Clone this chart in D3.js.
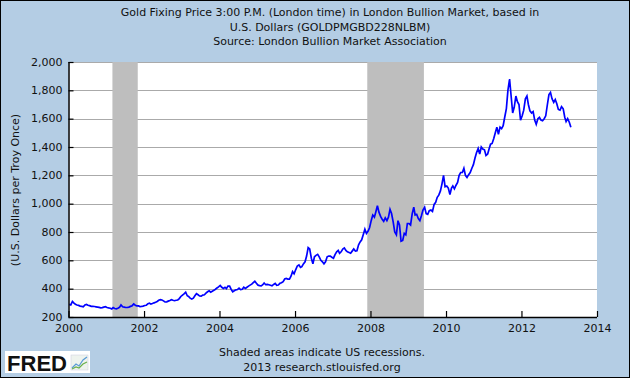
<!DOCTYPE html>
<html><head><meta charset="utf-8">
<script src="https://cdn.jsdelivr.net/npm/d3@7"></script>
<style>body{margin:0;background:#fff}svg{display:block}</style>
</head><body>
<script>
// Semi-monthly readings (two per month, Jan..Dec) of the gold PM fix, USD per troy ounce
const gold2000 = [289,285,310,298,290,285,282,277,275,272,285,289,283,280,275,275,274,272,270,268,265,266,270,273];
const gold2001 = [267,264,262,257,266,260,258,262,268,285,272,270,267,267,270,275,280,292,283,279,278,274,275,277];
const gold2002 = [281,283,294,298,291,295,300,304,310,318,322,320,314,306,307,312,317,322,318,315,318,320,330,345];
const gold2003 = [355,363,375,350,345,333,327,333,350,365,357,348,347,355,357,368,378,385,375,382,388,396,405,413];
const gold2004 = [423,410,402,410,400,418,418,395,378,385,392,394,404,393,396,410,402,410,418,425,432,443,452,438];
const gold2005 = [425,422,420,428,440,428,430,428,424,420,430,437,424,426,438,442,450,468,472,468,468,488,520,505];
const gold2006 = [535,560,568,550,555,575,590,630,690,680,615,575,625,635,642,625,600,590,575,590,625,630,630,622];
const gold2007 = [615,640,660,670,650,660,680,688,670,660,655,650,665,680,665,668,710,730,745,780,820,790,805,830];
const gold2008 = [880,920,905,945,985,940,910,890,875,900,880,905,960,930,870,800,780,880,850,735,740,790,780,860];
const gold2009 = [860,850,930,975,920,925,895,880,915,955,975,930,925,950,955,945,995,1010,1045,1060,1090,1140,1200,1120];
const gold2010 = [1125,1110,1065,1110,1125,1105,1130,1150,1200,1220,1220,1250,1200,1185,1205,1220,1250,1275,1320,1360,1390,1350,1400,1385];
const gold2011 = [1380,1340,1350,1390,1420,1425,1460,1500,1540,1490,1540,1530,1550,1610,1670,1800,1880,1760,1640,1680,1760,1720,1700,1590];
const gold2012 = [1620,1660,1740,1760,1700,1655,1640,1650,1590,1560,1600,1610,1590,1585,1600,1620,1700,1770,1785,1740,1715,1735,1705,1665];
const gold2013 = [1660,1685,1670,1610,1580,1600,1575,1540];

const seriesYears = [2000,2001,2002,2003,2004,2005,2006,2007,2008,2009,2010,2011,2012,2013];
const seriesArrays = [gold2000,gold2001,gold2002,gold2003,gold2004,gold2005,gold2006,gold2007,gold2008,gold2009,gold2010,gold2011,gold2012,gold2013];

const recessionStarts = ["2001-03-01","2007-12-01"];
const recessionEnds   = ["2001-11-01","2009-06-01"];

const yTicks = [200,400,600,800,1000,1200,1400,1600,1800,2000];
const xTickYears = [2000,2002,2004,2006,2008,2010,2012,2014];

const titleLines = ["Gold Fixing Price 3:00 P.M. (London time) in London Bullion Market, based in",
                    "U.S. Dollars (GOLDPMGBD228NLBM)",
                    "Source: London Bullion Market Association"];
const footerLines = ["Shaded areas indicate US recessions.","2013 research.stlouisfed.org"];
const yAxisTitle = "(U.S. Dollars per Troy Once)";

// build data
const data = [];
seriesYears.forEach((yr,i)=>{
  seriesArrays[i].forEach((v,j)=>{
    const m = Math.floor(j/2), half = j%2;
    data.push({date:new Date(yr,m,half?23:8), value:v});
  });
});

const W=630,H=378;
const font = "'DejaVu Sans', Verdana, sans-serif";
const svg = d3.select("body").append("svg").attr("width",W).attr("height",H);
svg.append("rect").attr("x",0).attr("y",0).attr("width",W).attr("height",H).attr("fill","#b4cde4");
svg.append("rect").attr("x",0.5).attr("y",0.5).attr("width",W-1).attr("height",H-1).attr("fill","none").attr("stroke","#000");

const L=68.5,R=597,T=62,B=317;
const x = d3.scaleTime().domain([new Date(2000,0,1),new Date(2014,0,1)]).range([L,R]);
const y = d3.scaleLinear().domain([200,2000]).range([B,T]);

svg.append("rect").attr("x",L).attr("y",T).attr("width",R-L).attr("height",B-T).attr("fill","#fff");

// gridlines
svg.append("g").selectAll("line").data(yTicks.slice(1)).join("line")
  .attr("x1",L).attr("x2",R).attr("y1",d=>Math.round(y(d))+0.5).attr("y2",d=>Math.round(y(d))+0.5)
  .attr("stroke","#aaaaaa").attr("stroke-width",1.2);

// recessions
const parse = d3.timeParse("%Y-%m-%d");
svg.append("g").selectAll("rect").data(recessionStarts.map((s,i)=>({s:parse(s),e:parse(recessionEnds[i])}))).join("rect")
  .attr("x",d=>x(d.s)).attr("width",d=>x(d.e)-x(d.s)).attr("y",T).attr("height",B-T).attr("fill","#bebebe");

// line
svg.append("path").datum(data).attr("fill","none").attr("stroke","#0000ff").attr("stroke-width",1.7)
  .attr("stroke-linejoin","miter")
  .attr("d",d3.line().x(d=>x(d.date)).y(d=>y(d.value)));

// axes
const yAxis = d3.axisLeft(y).tickValues(yTicks).tickSize(-5).tickPadding(6).tickFormat(d3.format(","));
const gy = svg.append("g").attr("transform",`translate(${L},0)`).call(yAxis);
const xAxis = d3.axisBottom(x).tickValues(xTickYears.map(v=>new Date(v,0,1))).tickSize(-6).tickPadding(7).tickFormat(d3.timeFormat("%Y"));
const gx = svg.append("g").attr("transform",`translate(0,${B})`).call(xAxis);
[gx,gy].forEach(g=>{
  g.select(".domain").attr("stroke","#000").attr("stroke-width",1.5);
  g.selectAll(".tick line").attr("stroke","#000").attr("stroke-width",1.2);
  g.selectAll("text").attr("font-family",font).attr("font-size",11).attr("fill","#111");
});
gy.select(".domain").attr("d",`M0.5,${T}V${B}`);
gx.select(".domain").attr("d",`M${L},0.5H${R}`);
gy.selectAll(".tick text").attr("dy","0.28em");

// titles
svg.append("g").selectAll("text").data(titleLines).join("text")
  .attr("x",330).attr("y",(d,i)=>16+i*14.5).attr("text-anchor","middle")
  .attr("font-family",font).attr("font-size",11).attr("fill","#111").text(d=>d);
svg.append("text").attr("transform","translate(19,190) rotate(-90)").attr("text-anchor","middle")
  .attr("font-family",font).attr("font-size",11).attr("fill","#111").text(yAxisTitle);
svg.append("g").selectAll("text").data(footerLines).join("text")
  .attr("x",322).attr("y",(d,i)=>356+i*15).attr("text-anchor","middle")
  .attr("font-family",font).attr("font-size",11).attr("fill","#111").text(d=>d);

// FRED logo
const logo = svg.append("g");
logo.append("rect").attr("x",5).attr("y",351).attr("width",85).attr("height",22).attr("fill","#fff");
logo.append("text").attr("x",7).attr("y",371).attr("font-family","'Liberation Sans', Arial, sans-serif")
  .attr("font-weight","bold").attr("font-size",22).attr("textLength",60).attr("lengthAdjust","spacingAndGlyphs")
  .attr("fill","#111").text("FRED");
logo.append("rect").attr("x",71).attr("y",355).attr("width",17).attr("height",15).attr("fill","#eef3ee").attr("stroke","#ccd").attr("stroke-width",0.5);
logo.append("polyline").attr("points","72,368 76,364 79,366 83,360 87,357").attr("fill","none").attr("stroke","#5a9bd5").attr("stroke-width",1.2);
logo.append("polyline").attr("points","72,369 76,367 79,368 83,364 87,362").attr("fill","none").attr("stroke","#6ab04c").attr("stroke-width",1.2);
</script>
</body></html>
